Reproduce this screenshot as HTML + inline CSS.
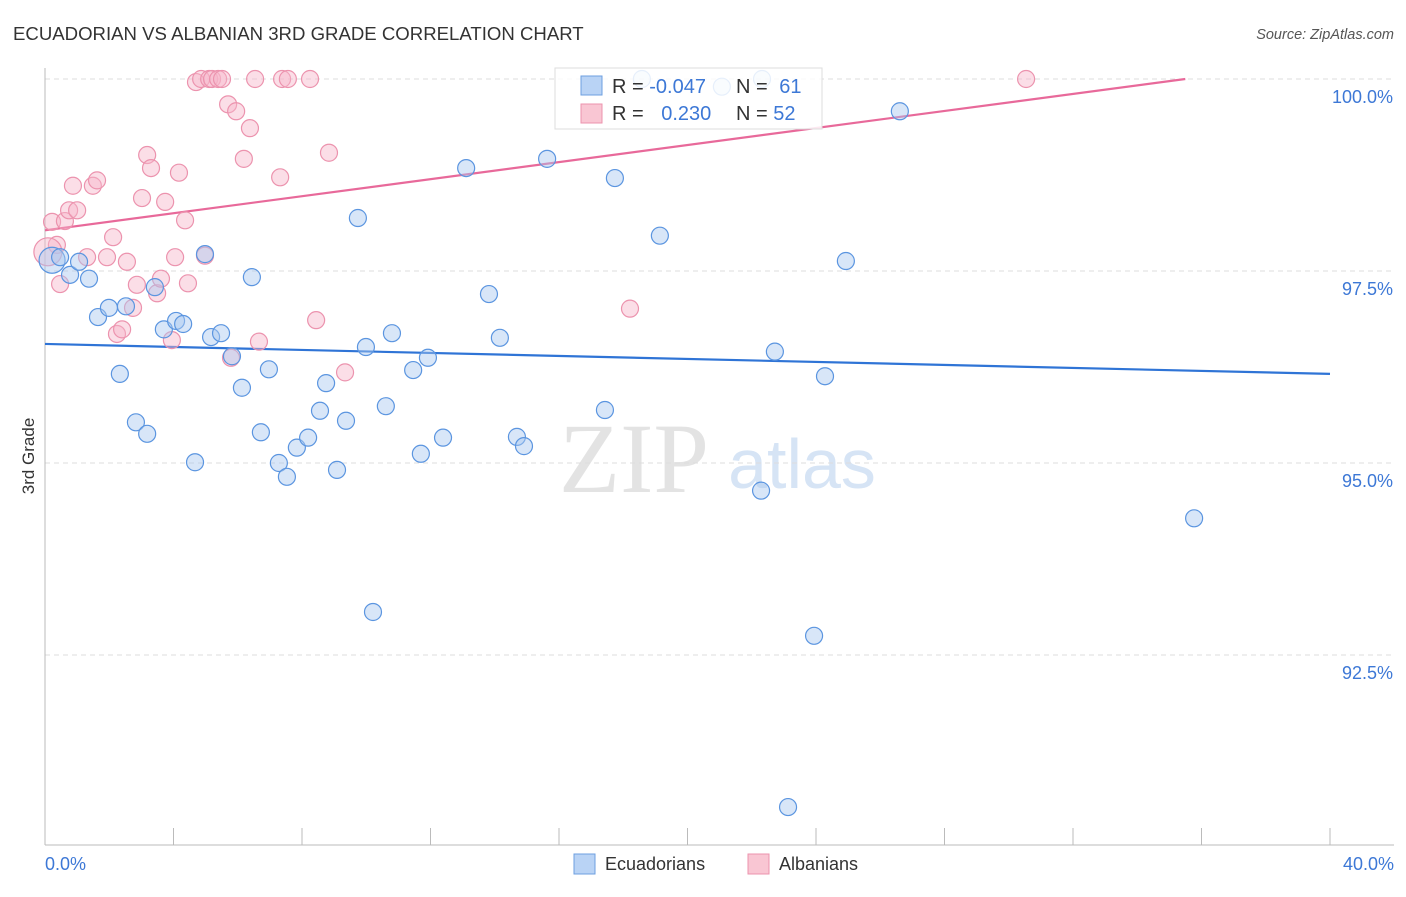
<!DOCTYPE html>
<html><head><meta charset="utf-8"><style>
body{margin:0;background:#fff;font-family:"Liberation Sans",sans-serif}
</style></head><body>
<svg id="chart" width="1406" height="892" viewBox="0 0 1406 892" font-family="Liberation Sans, sans-serif">
<text x="13" y="40" font-size="18.6" fill="#333">ECUADORIAN VS ALBANIAN 3RD GRADE CORRELATION CHART</text>
<text x="1394" y="39" font-size="14.5" fill="#555" font-style="italic" text-anchor="end">Source: ZipAtlas.com</text>
<text x="34" y="456" font-size="17" fill="#333" text-anchor="middle" transform="rotate(-90 34 456)">3rd Grade</text>
<g><text x="634" y="492" font-size="100" fill="#e3e3e3" style="font-family:'Liberation Serif',serif" text-anchor="middle">ZIP</text><text x="802" y="488" font-size="70" fill="#d6e4f5" text-anchor="middle">atlas</text></g>
<g id="grid"></g><g id="axes"></g><g id="trends"></g><g id="pts"></g>
<g>
<rect x="555" y="68" width="267" height="61" fill="#fff" fill-opacity="0.85" stroke="#ddd"/>
<rect x="581" y="76" width="21" height="19" fill="#b9d3f5" stroke="#6d9fe0"/>
<rect x="581" y="104" width="21" height="19" fill="#f9c6d3" stroke="#ec93ae"/>
<text x="612" y="93" font-size="20" fill="#333">R = <tspan fill="#3d78d6">-0.047</tspan></text>
<text x="736" y="93" font-size="20" fill="#333">N = <tspan fill="#3d78d6" dx="6">61</tspan></text>
<text x="612" y="120" font-size="20" fill="#333">R = <tspan fill="#3d78d6" dx="12">0.230</tspan></text>
<text x="736" y="120" font-size="20" fill="#333">N = <tspan fill="#3d78d6">52</tspan></text>
</g>
<g>
<rect x="574" y="854" width="21" height="20" fill="#b9d3f5" stroke="#6d9fe0"/>
<text x="605" y="870" font-size="18" fill="#333">Ecuadorians</text>
<rect x="748" y="854" width="21" height="20" fill="#f9c6d3" stroke="#ec93ae"/>
<text x="779" y="870" font-size="18" fill="#333">Albanians</text>
</g>
</svg>
<script>
const yTicks=[100,97.5,95,92.5];
const yTickLabels=["100.0%","97.5%","95.0%","92.5%"];
const xTickLabels=["0.0%","40.0%"];
const blueX=[0.22,0.47,0.78,1.37,1.06,1.65,1.99,2.52,2.33,2.83,3.18,3.42,3.70,4.08,4.30,4.67,4.98,5.17,5.48,5.82,6.13,6.44,6.72,6.97,7.28,7.53,7.84,8.19,8.56,8.75,9.09,9.37,9.74,9.99,10.21,10.61,10.80,11.46,11.70,11.92,12.39,13.11,13.82,14.16,14.69,14.91,15.63,17.43,17.74,18.58,19.14,21.07,22.29,22.32,22.72,23.13,23.94,24.28,24.93,26.61,35.77];
const blueY=[97.64,97.68,97.45,97.40,97.62,96.90,97.02,97.04,96.16,95.53,95.38,97.29,96.74,96.85,96.81,95.01,97.72,96.64,96.69,96.39,95.98,97.42,95.40,96.22,95.00,94.82,95.20,95.33,95.68,96.04,94.91,95.55,98.19,96.51,93.06,95.74,96.69,96.21,95.12,96.37,95.33,98.84,97.20,96.63,95.34,95.22,98.96,95.69,98.71,100.0,97.96,99.90,94.64,100.0,96.45,90.52,92.75,96.13,97.63,99.58,94.28];
const pinkX=[0.22,0.37,0.47,0.62,0.75,0.87,1.00,1.31,1.49,1.62,2.12,2.24,2.40,2.55,2.74,2.86,3.02,3.18,3.30,3.49,3.61,3.74,3.95,4.05,4.17,4.36,4.45,4.70,4.86,4.98,5.11,5.20,5.39,5.51,5.70,5.95,6.19,6.38,6.54,6.66,5.79,7.32,7.38,7.56,8.25,8.44,8.84,9.34,18.21,30.54,1.93,0.09];
const pinkY=[98.14,97.84,97.33,98.15,98.29,98.61,98.29,97.68,98.61,98.68,97.94,96.68,96.74,97.62,97.02,97.32,98.45,99.01,98.84,97.21,97.40,98.40,96.60,97.68,98.78,98.16,97.34,99.96,100,97.70,100,100,100,100,99.67,99.58,98.96,99.36,100,96.58,96.37,98.72,100,100,100,96.86,99.04,96.18,97.01,100,97.68,97.75];
const blueTrend=[96.55,96.16];
const pinkTrend=[98.03,100.25];
const NS="http://www.w3.org/2000/svg";
const X0=45,X1=1330,Y100=79,PXPER=76.8;
const sx=v=>X0+(v/40)*(X1-X0);
const sy=v=>Y100+(100-v)*PXPER;
function mk(tag,attrs,parent){const e=document.createElementNS(NS,tag);for(const k in attrs)e.setAttribute(k,attrs[k]);parent.appendChild(e);return e;}
const grid=document.getElementById('grid'),axes=document.getElementById('axes'),tr=document.getElementById('trends'),pts=document.getElementById('pts');
yTicks.forEach((t,i)=>{
 const l=mk('line',{x1:45,x2:1394,y1:sy(t),y2:sy(t),stroke:'#ddd','stroke-dasharray':'5,4'},grid);
 
 
 const tx=mk('text',{x:1393,y:sy(t)+24,'font-size':18,fill:'#3d78d6','text-anchor':'end'},grid);
 tx.textContent=yTickLabels[i];
 
 
});
const ya=mk('line',{x1:45,x2:45,y1:68,y2:845,stroke:'#bbb'},axes);


const xa=mk('line',{x1:45,x2:1394,y1:845,y2:845,stroke:'#bbb'},axes);


for(let i=0;i<=10;i++){
 const t=mk('line',{x1:sx(i*4),x2:sx(i*4),y1:828,y2:845,stroke:'#bbb'},axes);
 
 
}
[[0,'start',45],[40,'end',1394]].forEach((d,i)=>{
 const tx=mk('text',{x:d[2],y:870,'font-size':18,fill:'#3d78d6','text-anchor':d[1]},axes);
 tx.textContent=xTickLabels[i];
 
 
});
const bl=mk('line',{x1:sx(0),y1:sy(blueTrend[0]),x2:sx(40),y2:sy(blueTrend[1]),stroke:'#2f74d6','stroke-width':2.2},tr);


const slope=(pinkTrend[1]-pinkTrend[0])/40;
const xEnd=Math.min(40,(100-pinkTrend[0])/slope);
const pl=mk('line',{x1:sx(0),y1:sy(pinkTrend[0]),x2:sx(xEnd),y2:sy(pinkTrend[0]+slope*xEnd),stroke:'#e8699a','stroke-width':2.2},tr);


pinkX.forEach((x,i)=>{
 const c=mk('circle',{cx:sx(x),cy:sy(pinkY[i]),r:i===pinkX.length-1?14:8.5,fill:'#f7b6c9','fill-opacity':0.45,stroke:'#ec93ae','stroke-width':1.2},pts);
 
 
});
blueX.forEach((x,i)=>{
 const c=mk('circle',{cx:sx(x),cy:sy(blueY[i]),r:i===0?13:8.5,fill:'#a9c8f0','fill-opacity':0.45,stroke:'#5b95e0','stroke-width':1.2},pts);
 
 
});
</script>
</body></html>
